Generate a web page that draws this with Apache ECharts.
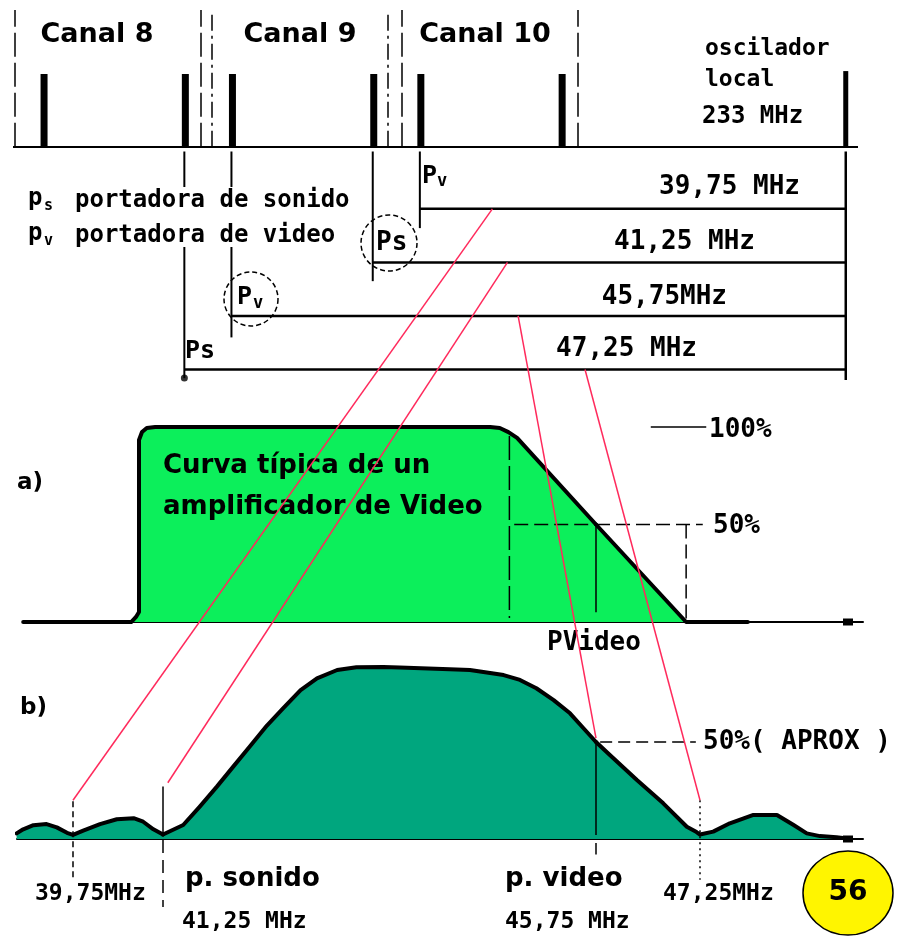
<!DOCTYPE html>
<html>
<head>
<meta charset="utf-8">
<script src="https://cdn.jsdelivr.net/npm/echarts@6/dist/echarts.min.js"></script>
<style>
  html, body { margin: 0; padding: 0; background: #fff; }
  #chart { width: 905px; height: 936px; }
</style>
</head>
<body>
<div id="chart"></div>
<script>
// ---------- Datos: canales de VHF y oscilador local (MHz) ----------
const canales = ['Canal 8', 'Canal 9', 'Canal 10'];
const centrosCanal = [183, 189, 195];
const portadorasVideo = [181.25, 187.25, 193.25];
const portadorasSonido = [185.75, 191.75, 197.75];
const nivelPortadora = 100;
const osciladorLocal = 233;
const nivelOscilador = 104;
const limitesCanal = [180.33, 186.25, 186.6, 192.2, 192.65, 198.25];

// Portadoras que caen en la banda de FI (oscilador - portadora)
const portadorasConvertidas = [193.25, 191.75, 187.25, 185.75];
const frecuenciasFI = [39.75, 41.25, 45.75, 47.25];
const textosFI = ['39,75 MHz', '41,25 MHz', '45,75MHz', '47,25 MHz'];

// a) Curva del amplificador de video: [MHz, %]
const curvaVideo = [
  [38.92, 0], [40.72, 0], [40.8, 2.6], [40.85, 5.1], [40.85, 93.3], [40.9, 97.4], [40.98, 99.5], [41.12, 100], [41.25, 100],
  [44.65, 100], [44.75, 99.5], [44.84, 97.4], [44.93, 94.4], [45.75, 50],
  [47.05, 0], [47.94, 0]
];
const bordesPendiente = [44.85, 47.05];

// b) Respuesta del amplificador de FI: [MHz, %]
const curvaFI = [
  [38.81, 2.9], [38.92, 5], [39.09, 7.1], [39.31, 7.7], [39.48, 6], [39.65, 3.2], [39.75, 2.1],
  [39.92, 4.3], [40.2, 7.7], [40.48, 10.2], [40.76, 10.7], [40.92, 8.9], [41.09, 5], [41.25, 2.3],
  [41.46, 7.2], [41.63, 16.6], [41.81, 27], [41.98, 37.3], [42.15, 47.6], [42.33, 58.5], [42.5, 67.4],
  [42.68, 76.8], [42.85, 82.8], [43.06, 87.1], [43.26, 88.5], [43.54, 88.6], [43.71, 88.4], [44.23, 87.5],
  [44.44, 87.1], [44.79, 84.5], [44.96, 82], [45.13, 77.7], [45.31, 71.6], [45.48, 64.8], [45.62, 57.1], [45.75, 50],
  [45.95, 43.3], [46.34, 30.4], [46.72, 18.4], [47.06, 6.3], [47.2, 3.6], [47.25, 2.3], [47.44, 3.8],
  [47.68, 8.1], [48.02, 12.4], [48.36, 12.4], [48.6, 7.2], [48.79, 2.9], [48.98, 1.5], [49.22, 0.9], [49.31, 0.5]
];
const nivelMitad = 50;

// Trazos que unen cada línea de FI (punto sobre la línea, MHz de RF) con su marca en b)
const conexionRF = [195.56, 196.04, 196.38, 198.51];
const conexionFI = [[39.75, 20], [41.3, 29], [45.75, 52], [47.25, 20]];

// ---------- Estilos ----------
const NEGRO = '#000';
const VERDE_A = '#0CEF5B';
const VERDE_B = '#00A67E';
const ROJO = '#FF2A5C';
const MONO = '"DejaVu Sans Mono", monospace';
const SANS = '"DejaVu Sans", sans-serif';

// Tramos del eje de FI: cada tramo es una rejilla con su propia escala
const cortes = [41.25, 45.75];
const tramosA = [[38.9167, 41.25], [41.25, 45.75], [45.75, 49.601]];
const tramosB = [[38.8167, 41.25], [41.25, 45.75], [45.75, 49.601]];
const EJE_A = 2, EJE_B = 5;

// Ejes del diagrama de conversión (con el hueco entre 199 y 232 MHz)
const ejeRF = (grid) => ({
  gridIndex: grid, type: 'value', min: 180.293, max: 233.39, show: false,
  breaks: [{ start: 199, end: 232, gap: 6.814 }],
  breakArea: { show: false, itemStyle: { opacity: 0, color: 'rgba(0,0,0,0)', borderColor: 'rgba(0,0,0,0)' } }
});

const ejeFI = (grid, [min, max], simbolo) => ({
  gridIndex: grid, type: 'value', min, max,
  axisLine: {
    show: true, onZero: true,
    lineStyle: { color: NEGRO, width: 2 },
    symbol: simbolo ? ['none', 'rect'] : 'none',
    symbolSize: [7, 10], symbolOffset: [0, -15]
  },
  axisTick: { show: false }, axisLabel: { show: false }, splitLine: { show: false }
});

const ejeY = (grid, min, max, inverse) => ({
  gridIndex: grid, type: 'value', min, max, inverse: !!inverse, show: false
});

function linea(datos, eje, estilo, z) {
  return {
    type: 'line', xAxisIndex: eje, yAxisIndex: eje, data: datos,
    symbol: 'none', clip: false, silent: true, z: z || 4,
    lineStyle: Object.assign({ color: NEGRO, width: 1.5 }, estilo)
  };
}

// Reparte una curva entre los tres tramos del eje de FI
function curvaEnTramos(puntos, ejeBase, relleno) {
  const limites = [[-Infinity, cortes[0]], [cortes[0], cortes[1]], [cortes[1], Infinity]];
  return limites.map(([lo, hi], i) => ({
    type: 'line', xAxisIndex: ejeBase + i, yAxisIndex: ejeBase + i,
    data: puntos.filter(p => p[0] >= lo && p[0] <= hi),
    symbol: 'none', clip: false, silent: true, z: 3,
    lineStyle: { color: NEGRO, width: 4, cap: 'round', join: 'round' },
    areaStyle: { color: relleno, opacity: 1 }
  }));
}

const tiposLimite = [[24, 6], [24, 6], [16, 5, 3, 5], [16, 5, 3, 5], [24, 6], [24, 6]];
const extension = [0.36, 1.35, 2.40, 3.16];

const series = [];

// Espectro de RF: portadoras y oscilador
series.push({
  type: 'bar', xAxisIndex: 0, yAxisIndex: 0, barWidth: 7, silent: true,
  data: portadorasVideo.map(f => [f, nivelPortadora]),
  itemStyle: { color: NEGRO },
  markLine: {
    silent: true, symbol: 'none', label: { show: false },
    data: [{ yAxis: 0, lineStyle: { color: NEGRO, width: 2, type: 'solid' } }]
      .concat(limitesCanal.map((f, i) => ({ xAxis: f, lineStyle: { color: NEGRO, width: 1.5, type: tiposLimite[i] } })))
  }
});
series.push({
  type: 'bar', xAxisIndex: 0, yAxisIndex: 0, barWidth: 7, barGap: '-100%', silent: true,
  data: portadorasSonido.map(f => [f, nivelPortadora]),
  itemStyle: { color: NEGRO }
});
series.push({
  type: 'bar', xAxisIndex: 0, yAxisIndex: 0, barWidth: 5, barGap: '-100%', silent: true,
  data: [[osciladorLocal, nivelOscilador]],
  itemStyle: { color: NEGRO }
});

// Conversión: bajadas desde cada portadora y líneas hasta el oscilador
portadorasConvertidas.forEach((f, i) => {
  series.push(linea([[f, -1.07], [f, extension[i]]], 1, { width: 2 }));
  series.push(linea([[f, i], [osciladorLocal, i]], 1, { width: 2.5 }));
});
series.push(linea([[osciladorLocal, -1.07], [osciladorLocal, 3.195]], 1, { width: 2.5 }));
series.push({
  type: 'scatter', xAxisIndex: 1, yAxisIndex: 1, symbolSize: 7, silent: true, clip: false,
  data: [[portadorasConvertidas[3], extension[3]]], itemStyle: { color: NEGRO }
});

// a) Curva del amplificador de video
series.push(...curvaEnTramos(curvaVideo, EJE_A, VERDE_A));
series.push(linea([[bordesPendiente[0], 95.4], [bordesPendiente[0], 2]], EJE_A + 1, { type: [24, 6] }));
series.push(linea([[frecuenciasFI[2], nivelMitad], [frecuenciasFI[2], 5]], EJE_A + 1, {}));
series.push(linea([[bordesPendiente[1], nivelMitad], [bordesPendiente[1], 0]], EJE_A + 2, { type: [14, 6] }));
series.push(linea([[44.9, nivelMitad], [frecuenciasFI[2], nivelMitad]], EJE_A + 1, { type: [14, 6] }));
series.push(linea([[frecuenciasFI[2], nivelMitad], [47.29, nivelMitad]], EJE_A + 2, { type: [14, 6] }));
series.push(linea([[46.54, 100], [47.34, 100]], EJE_A + 2, {}));

// b) Respuesta de FI y marcas de las portadoras
series.push(...curvaEnTramos(curvaFI, EJE_B, VERDE_B));
series.push(linea([[frecuenciasFI[0], 19.5], [frecuenciasFI[0], -20]], EJE_B, { type: [6, 4] }));
series.push(linea([[frecuenciasFI[1], 27], [frecuenciasFI[1], 2.5]], EJE_B + 1, {}));
series.push(linea([[frecuenciasFI[1], -0.5], [frecuenciasFI[1], -35]], EJE_B + 1, { type: [13, 7] }));
series.push(linea([[frecuenciasFI[2], nivelMitad], [frecuenciasFI[2], 2]], EJE_B + 1, {}));
series.push(linea([[frecuenciasFI[2], -2], [frecuenciasFI[2], -8]], EJE_B + 1, {}));
series.push(linea([[frecuenciasFI[3], 20], [frecuenciasFI[3], -21]], EJE_B + 2, { type: [2, 4] }));
series.push(linea([[45.81, nivelMitad], [47.19, nivelMitad]], EJE_B + 2, { type: [12, 6] }));

const option = {
  animation: false,
  backgroundColor: '#fff',
  grid: [
    { left: 13, top: 10, width: 845, height: 136.7 },
    { left: 13, top: 151.5, width: 845, height: 228.5 },
    { left: 23, top: 427, width: 140, height: 195 },
    { left: 163, top: 427, width: 433, height: 195 },
    { left: 596, top: 427, width: 267, height: 195 },
    { left: 17, top: 645, width: 146, height: 194 },
    { left: 163, top: 645, width: 433, height: 194 },
    { left: 596, top: 645, width: 267, height: 194 }
  ],
  xAxis: [
    ejeRF(0), ejeRF(1),
    ejeFI(2, tramosA[0]), ejeFI(3, tramosA[1]), ejeFI(4, tramosA[2], true),
    ejeFI(5, tramosB[0]), ejeFI(6, tramosB[1]), ejeFI(7, tramosB[2], true)
  ],
  yAxis: [
    ejeY(0, 0, 188), ejeY(1, -1.07, 3.195, true),
    ejeY(2, 0, 100), ejeY(3, 0, 100), ejeY(4, 0, 100),
    ejeY(5, 0, 100), ejeY(6, 0, 100), ejeY(7, 0, 100)
  ],
  series
};

const chart = echarts.init(document.getElementById('chart'));
chart.setOption(option);

// ---------- Textos y anotaciones ----------
function texto(str, x, y, size, fam, align) {
  return {
    type: 'text', x, y, z: 10, silent: true,
    style: { text: str, fill: NEGRO, font: 'bold ' + size + 'px ' + fam, align: align || 'left', verticalAlign: 'middle' }
  };
}

const elementos = [];

// Rótulos de canal
const posCanal = [97, 300, 485];
canales.forEach((c, i) => elementos.push(texto(c, posCanal[i], 35, 27, SANS, 'center')));

elementos.push(texto('oscilador', 705, 49, 23, MONO));
elementos.push(texto('local', 705, 80, 23, MONO));
elementos.push(texto('233 MHz', 702, 117, 24, MONO));

// Frecuencias resultantes sobre cada línea
const finFI = [[800, 187.5], [755, 242], [727, 297.5], [697, 349.5]];
textosFI.forEach((t, i) => elementos.push(texto(t, finFI[i][0], finFI[i][1], 26, MONO, 'right')));

// Leyenda con fondo blanco
elementos.push({ type: 'rect', z: 9, silent: true, shape: { x: 22, y: 187, width: 338, height: 60 }, style: { fill: '#fff' } });
elementos.push(texto('p', 28, 199, 24, MONO));
elementos.push(texto('s', 44, 206, 15, MONO));
elementos.push(texto('portadora de sonido', 75, 201, 24, MONO));
elementos.push(texto('p', 28, 234, 24, MONO));
elementos.push(texto('v', 44, 241, 15, MONO));
elementos.push(texto('portadora de video', 75, 236, 24, MONO));

// Identificación de las portadoras convertidas
elementos.push(texto('P', 422, 176, 25, MONO));
elementos.push(texto('v', 437, 182, 17, MONO));
elementos.push(texto('Ps', 376, 243, 26, MONO));
elementos.push(texto('P', 237, 297, 25, MONO));
elementos.push(texto('v', 253, 304, 17, MONO));
elementos.push(texto('Ps', 185, 351, 25, MONO));
[[389, 243, 28], [251, 299, 27]].forEach(([cx, cy, r]) => elementos.push({
  type: 'circle', z: 10, silent: true, shape: { cx, cy, r },
  style: { fill: 'none', stroke: NEGRO, lineWidth: 1.5, lineDash: [5, 3] }
}));

// Panel a)
elementos.push(texto('a)', 17, 483, 23, SANS));
elementos.push(texto('Curva típica de un', 163, 466, 26, SANS));
elementos.push(texto('amplificador de Video', 163, 507, 26, SANS));
elementos.push(texto('100%', 709, 430, 26, MONO));
elementos.push(texto('50%', 713, 526, 26, MONO));
elementos.push(texto('PVideo', 547, 643, 26, MONO));

// Panel b)
elementos.push(texto('b)', 20, 708, 23, SANS));
elementos.push(texto('50%( APROX )', 703, 742, 26, MONO));
elementos.push(texto('39,75MHz', 35, 894, 23, MONO));
elementos.push(texto('p. sonido', 185, 879, 26, SANS));
elementos.push(texto('41,25 MHz', 182, 922, 23, MONO));
elementos.push(texto('p. video', 505, 879, 26, SANS));
elementos.push(texto('45,75 MHz', 505, 922, 23, MONO));
elementos.push(texto('47,25MHz', 663, 894, 23, MONO));

// Número de figura
elementos.push({ type: 'ellipse', z: 10, silent: true, shape: { cx: 848, cy: 893, rx: 45, ry: 42 }, style: { fill: '#FFF500', stroke: NEGRO, lineWidth: 1.5 } });
elementos.push(texto('56', 848, 893, 28, SANS, 'center'));

// Trazos rojos entre cada línea de FI y su marca en b)
const rejillaFI = f => EJE_B + (f < cortes[0] ? 0 : (f <= cortes[1] ? 1 : 2));
conexionRF.forEach((rf, i) => {
  const p1 = chart.convertToPixel({ gridIndex: 1 }, [rf, i]);
  const [f, v] = conexionFI[i];
  const p2 = chart.convertToPixel({ gridIndex: rejillaFI(f) }, [f, v]);
  elementos.push({
    type: 'line', z: 30, silent: true,
    shape: { x1: p1[0], y1: p1[1], x2: p2[0], y2: p2[1] },
    style: { stroke: ROJO, lineWidth: 1.5 }
  });
});

chart.setOption({ graphic: { elements: elementos } });
</script>
</body>
</html>
